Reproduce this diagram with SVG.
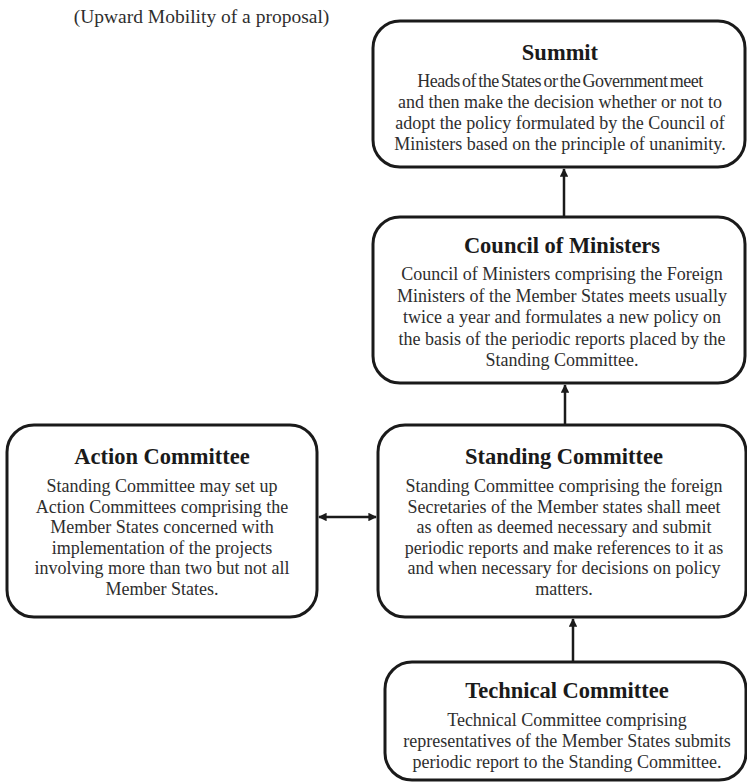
<svg xmlns="http://www.w3.org/2000/svg" width="747" height="782" viewBox="0 0 747 782">
<style>
.box{fill:#fff;stroke:#1a1a1a;stroke-width:3}
.t{font-family:"Liberation Serif","Times New Roman",serif;font-weight:bold;font-size:22.5px;fill:#1a1a1a;text-anchor:middle}
.b{font-family:"Liberation Serif","Times New Roman",serif;font-size:18px;fill:#2e2e2e;text-anchor:middle}
.cap{font-family:"Liberation Serif","Times New Roman",serif;font-size:19.5px;fill:#2e2e2e;text-anchor:middle}
.c{stroke:#1a1a1a;stroke-width:2.5;fill:none}
</style>
<defs>
<marker id="ah" viewBox="0 0 10 10" refX="9" refY="5" markerWidth="3.4" markerHeight="3.4" orient="auto-start-reverse" markerUnits="strokeWidth">
<path d="M0,0 L10,5 L0,10 Z" fill="#1a1a1a"/>
</marker>
</defs>
<rect width="747" height="782" fill="#fff"/>
<text class="cap" x="201.5" y="23">(Upward Mobility of a proposal)</text>
<g id="connectors">
<line class="c" x1="564" y1="216" x2="564" y2="169" marker-end="url(#ah)"/>
<line class="c" x1="565" y1="424" x2="565" y2="385" marker-end="url(#ah)"/>
<line class="c" x1="573" y1="661" x2="573" y2="619" marker-end="url(#ah)"/>
<line class="c" x1="319" y1="517" x2="376" y2="517" marker-start="url(#ah)" marker-end="url(#ah)"/>
</g>
<g id="summit">
<rect class="box" x="373" y="21" width="372" height="146" rx="27"/>
<text class="t" x="560" y="60">Summit</text>
<text class="b" x="560" y="87" letter-spacing="-0.5" word-spacing="-1.7">Heads of the States or the Government meet</text>
<text class="b" x="560" y="108">and then make the decision whether or not to</text>
<text class="b" x="560" y="129">adopt the policy formulated by the Council of</text>
<text class="b" x="560" y="150">Ministers based on the principle of unanimity.</text>
</g>
<g id="council">
<rect class="box" x="373" y="217" width="372" height="166" rx="27"/>
<text class="t" x="562" y="253">Council of Ministers</text>
<text class="b" x="562" y="280">Council of Ministers comprising the Foreign</text>
<text class="b" x="562" y="301.5">Ministers of the Member States meets usually</text>
<text class="b" x="562" y="323">twice a year and formulates a new policy on</text>
<text class="b" x="562" y="344.5">the basis of the periodic reports placed by the</text>
<text class="b" x="562" y="366">Standing Committee.</text>
</g>
<g id="action">
<rect class="box" x="7" y="425" width="310" height="192" rx="27"/>
<text class="t" x="162" y="464">Action Committee</text>
<text class="b" x="162" y="492">Standing Committee may set up</text>
<text class="b" x="162" y="512.5">Action Committees comprising the</text>
<text class="b" x="162" y="533">Member States concerned with</text>
<text class="b" x="162" y="553.5">implementation of the projects</text>
<text class="b" x="162" y="574">involving more than two but not all</text>
<text class="b" x="162" y="594.5">Member States.</text>
</g>
<g id="standing">
<rect class="box" x="378" y="425" width="368" height="192" rx="27"/>
<text class="t" x="564" y="464">Standing Committee</text>
<text class="b" x="564" y="492">Standing Committee comprising the foreign</text>
<text class="b" x="564" y="512.5">Secretaries of the Member states shall meet</text>
<text class="b" x="564" y="533">as often as deemed necessary and submit</text>
<text class="b" x="564" y="553.5">periodic reports and make references to it as</text>
<text class="b" x="564" y="574">and when necessary for decisions on policy</text>
<text class="b" x="564" y="594.5">matters.</text>
</g>
<g id="technical">
<rect class="box" x="385" y="662" width="361" height="118" rx="27"/>
<text class="t" x="567" y="698">Technical Committee</text>
<text class="b" x="567" y="726">Technical Committee comprising</text>
<text class="b" x="567" y="747">representatives of the Member States submits</text>
<text class="b" x="567" y="768">periodic report to the Standing Committee.</text>
</g>
</svg>
